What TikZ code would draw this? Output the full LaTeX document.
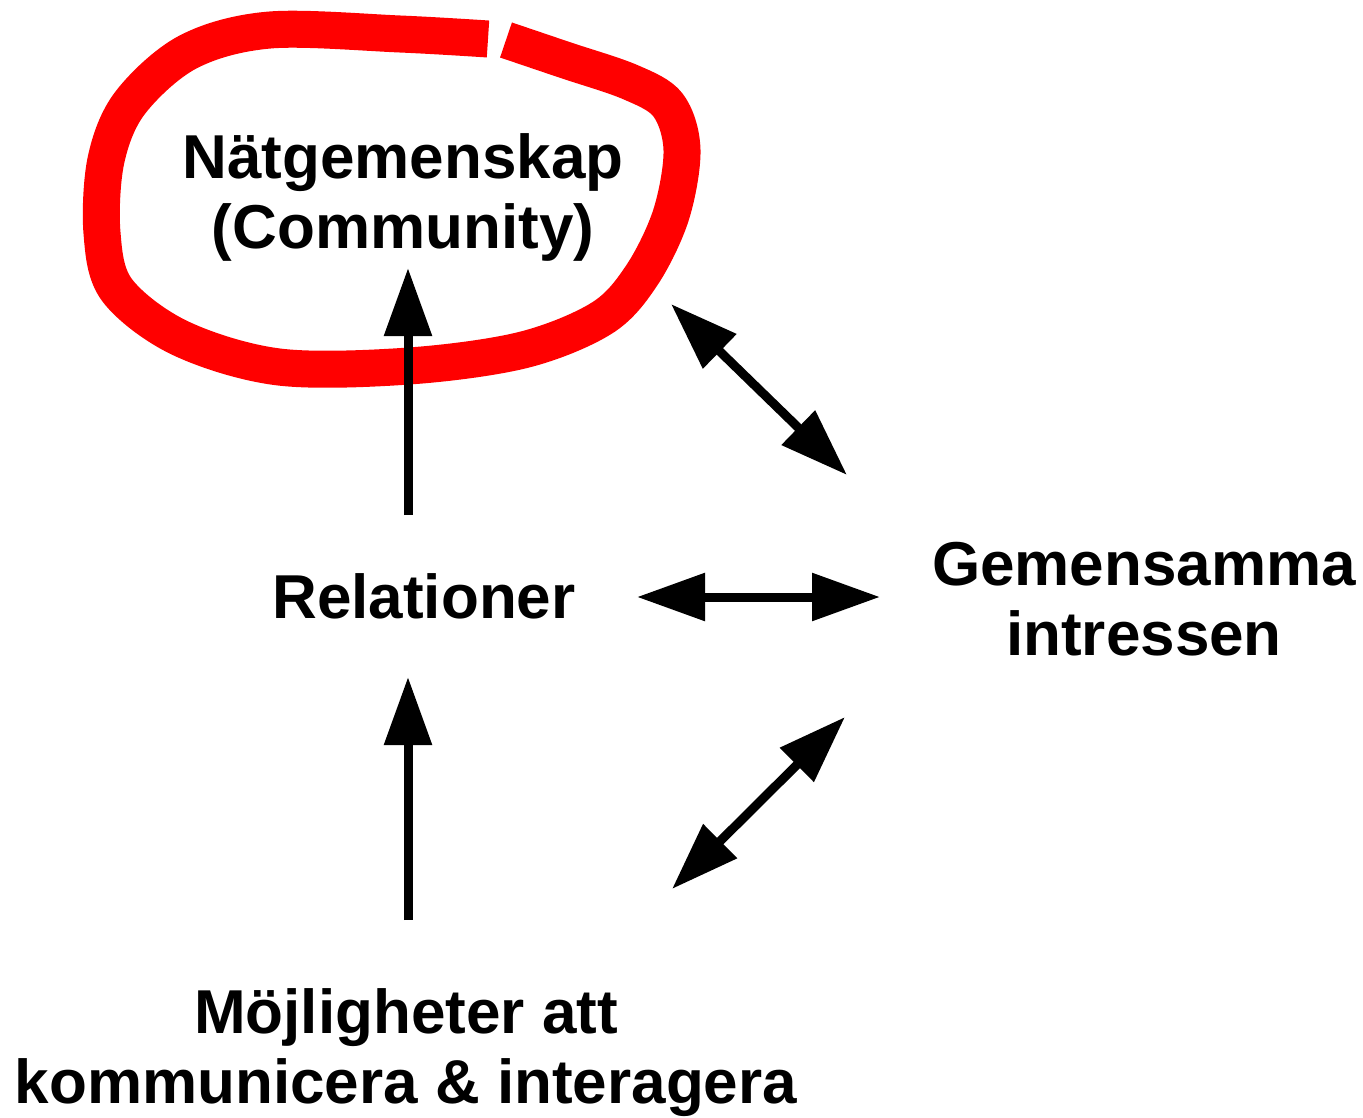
\documentclass[tikz,border=0pt]{standalone}
\usepackage{fontspec}
\setmainfont{Liberation Sans}
\usetikzlibrary{arrows.meta}
\begin{document}
\begin{tikzpicture}[x=1pt,y=-1pt,
  lbl/.style={font=\bfseries\fontsize{62}{70}\selectfont, align=center, anchor=base, inner sep=0pt},
  conn/.style={line width=9pt, {Triangle[length=68pt,width=46pt]}-{Triangle[length=68pt,width=46pt]}},
  uconn/.style={line width=9pt, -{Triangle[length=68pt,width=46pt]}},
  loop/.style={draw=red, line width=37pt, line cap=butt, line join=round}]
\useasboundingbox (0,0) rectangle (1363,1118);
% red loop
\draw[loop] plot[smooth, tension=0.55] coordinates {(506,40) (565,60) (630,82) (668,105) (682,150) (671,215) (642,275) (602,318) (523,350) (409,366) (279,367) (180,338) (117,290) (102,233) (106,160) (130,103) (188,52) (270,30) (400,34) (488,39)};
% labels (base anchor = last line)
\node[lbl] (nat) at (403,248) {Nätgemenskap\\(Community)};
\node[lbl] (rel) at (424,618) {Relationer};
\node[lbl] (gem) at (1144,655) {Gemensamma\\intressen};
\node[lbl] (moj) at (406,1103) {Möjligheter att\\kommunicera \& interagera};
% arrow endpoints
\coordinate (a1s) at (408,515); \coordinate (a1e) at (408,268);
\coordinate (a2s) at (408,920); \coordinate (a2e) at (408,677);
\coordinate (h1) at (637,597); \coordinate (h2) at (880,597);
\coordinate (d1) at (671,304); \coordinate (d2) at (847,475);
\coordinate (e1) at (845,717); \coordinate (e2) at (672,889);
\draw[uconn] (a1s) -- (a1e);
\draw[uconn] (a2s) -- (a2e);
\draw[conn] (h1) -- (h2);
\draw[conn] (d1) -- (d2);
\draw[conn] (e1) -- (e2);
\end{tikzpicture}
\end{document}
